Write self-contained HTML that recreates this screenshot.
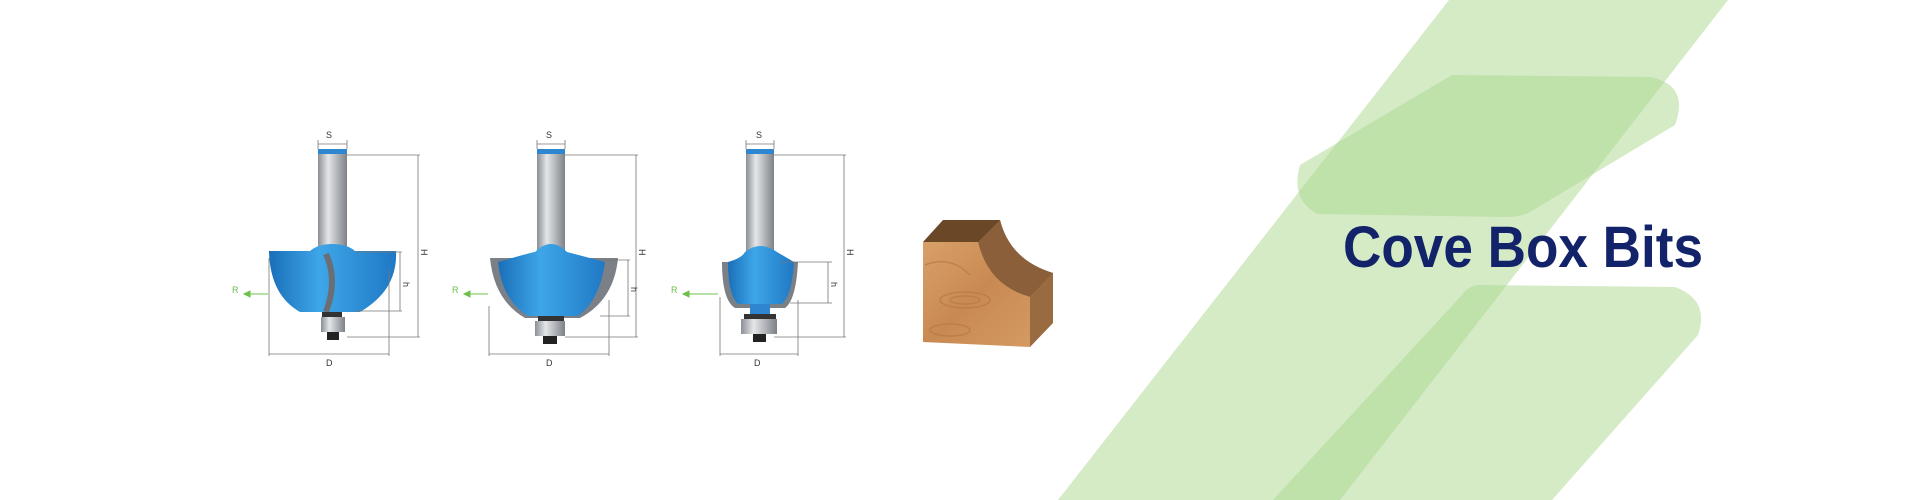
<!DOCTYPE html>
<html><head><meta charset="utf-8"><style>
html,body{margin:0;padding:0;background:#fff;width:1920px;height:500px;overflow:hidden}
svg{display:block}
</style></head><body>
<svg width="1920" height="500" viewBox="0 0 1920 500" xmlns="http://www.w3.org/2000/svg">
<defs>
<linearGradient id="sh" x1="0" x2="1"><stop offset="0" stop-color="#8a8f96"/><stop offset=".35" stop-color="#e4e6e8"/><stop offset="1" stop-color="#7d8288"/></linearGradient>
<linearGradient id="bl" x1="0" x2="1"><stop offset="0" stop-color="#1a6fb8"/><stop offset=".4" stop-color="#3ea6e8"/><stop offset="1" stop-color="#1f78c4"/></linearGradient>
<linearGradient id="wd" x1="0" y1="0" x2="1" y2="1"><stop offset="0" stop-color="#d9a06a"/><stop offset=".5" stop-color="#c98a52"/><stop offset="1" stop-color="#d39a62"/></linearGradient>
</defs>
<g fill="#a9d88e" fill-opacity="0.5">
<path d="M1449 0 L1728 0 L1340 500 L1058 500 Z"/>
<path d="M1452 75 L1650 77 Q1690 85 1675 125 L1530 212 Q1520 217 1505 217 L1318 214 Q1290 200 1300 165 Z"/>
<path d="M1479 285 L1675 287 Q1710 300 1698 335 L1552 500 L1273 500 L1462 295 Q1468 286 1479 285 Z"/>
</g>
<text x="1343" y="267" font-family="Liberation Sans, sans-serif" font-weight="bold" font-size="58" fill="#13236a" textLength="360" lengthAdjust="spacingAndGlyphs">Cove Box Bits</text>

<g font-family="Liberation Sans, sans-serif" font-size="9" fill="#333">
<!-- Bit 1 -->
<g>
<rect x="318" y="149" width="29" height="104" fill="url(#sh)"/>
<rect x="318" y="149" width="29" height="5" fill="#2f86d0"/>
<path d="M310 251 Q318 244 332 244 Q347 244 355 251 L396 251 Q398 290 360 312 L300 312 Q270 295 269 251 Z" fill="url(#bl)"/>
<path d="M326 254 Q338 280 326 312" stroke="#6a6f76" stroke-width="6" fill="none"/>
<rect x="322" y="312" width="20" height="5" fill="#333"/>
<rect x="321" y="317" width="24" height="15" fill="url(#sh)"/>
<rect x="327" y="332" width="12" height="8" fill="#222"/>
</g>
<!-- Bit 2 -->
<g>
<rect x="537" y="149" width="28" height="110" fill="url(#sh)"/>
<rect x="537" y="149" width="28" height="5" fill="#2f86d0"/>
<path d="M490 258 L618 258 Q614 300 580 318 L525 318 Q494 300 490 258 Z" fill="#7b8087"/>
<path d="M498 262 Q540 250 535 252 Q551 236 567 252 L605 262 Q600 300 578 316 L528 316 Q502 300 498 262 Z" fill="url(#bl)"/>
<rect x="538" y="316" width="26" height="5" fill="#333"/>
<rect x="535" y="321" width="30" height="15" fill="url(#sh)"/>
<rect x="543" y="336" width="14" height="8" fill="#222"/>
</g>
<!-- Bit 3 -->
<g>
<rect x="746" y="149" width="28" height="110" fill="url(#sh)"/>
<rect x="746" y="149" width="28" height="5" fill="#2f86d0"/>
<path d="M722 262 L798 262 Q796 300 785 308 L735 308 Q722 300 722 262 Z" fill="#7b8087"/>
<path d="M728 262 Q742 258 745 252 Q760 240 777 252 L794 262 Q792 295 782 304 L738 304 Q728 295 728 262 Z" fill="url(#bl)"/>
<rect x="750" y="304" width="20" height="10" fill="#2f86d0"/>
<rect x="744" y="314" width="32" height="5" fill="#333"/>
<rect x="741" y="319" width="36" height="15" fill="url(#sh)"/>
<rect x="753" y="334" width="13" height="8" fill="#222"/>
</g>
<g stroke="#777" stroke-width="0.8" fill="none">
<path d="M347 155 H420 M347 337 H420 M418 155 V337 M269 258 V356 M389 270 V356 M269 354 H389 M318 144 H347 M318 140 V149 M347 140 V149 M355 252 H402 M355 311 H402 M400 252 V311"/>
<path d="M565 155 H638 M565 337 H638 M636 155 V337 M489 306 V356 M609 300 V356 M489 354 H609 M537 144 H565 M537 140 V149 M565 140 V149 M600 260 H630 M600 316 H630 M628 260 V316"/>
<path d="M774 155 H846 M774 337 H846 M844 155 V337 M720 297 V356 M798 300 V356 M720 354 H798 M746 144 H774 M746 140 V149 M774 140 V149 M780 262 H832 M790 303 H832 M828 262 V303"/>
</g>
<text x="326" y="138">S</text><text x="546" y="138">S</text><text x="756" y="138">S</text>
<text x="326" y="366">D</text><text x="546" y="366">D</text><text x="754" y="366">D</text>
<text x="421" y="249" transform="rotate(90 421 249)">H</text>
<text x="639" y="249" transform="rotate(90 639 249)">H</text>
<text x="847" y="249" transform="rotate(90 847 249)">H</text>
<text x="403" y="282" transform="rotate(90 403 282)">h</text>
<text x="631" y="287" transform="rotate(90 631 287)">h</text>
<text x="831" y="282" transform="rotate(90 831 282)">h</text>
<g fill="#6cc04a"><text x="232" y="293">R</text><text x="452" y="293">R</text><text x="671" y="293">R</text></g>
<g stroke="#6cc04a" stroke-width="1" fill="#6cc04a">
<path d="M246 294 H268"/><path d="M244 294 L250 291 L250 297 Z"/>
<path d="M466 294 H488"/><path d="M464 294 L470 291 L470 297 Z"/>
<path d="M685 294 H718"/><path d="M683 294 L689 291 L689 297 Z"/>
</g>
</g>
<!-- wood block -->
<path d="M943 220 L1000 220 Q1010 260 1053 273 L1030 297 Q988 285 978 242 Z" fill="#6e4a2c"/>
<path d="M923 242 L943 220 L1000 220 L978 242 Z" fill="#6a4727"/>
<path d="M978 242 Q988 285 1030 297 L1053 273 Q1010 260 1000 220 Z" fill="#8a5f3a"/>
<path d="M1030 297 L1053 273 L1053 323 L1030 347 Z" fill="#9a6a40"/>
<path d="M923 242 L978 242 Q988 285 1030 297 L1030 347 L923 342 Z" fill="url(#wd)"/>
<g stroke="#b77a45" stroke-width="1.5" fill="none" opacity=".7">
<ellipse cx="965" cy="300" rx="25" ry="8"/><ellipse cx="965" cy="300" rx="15" ry="4"/>
<ellipse cx="950" cy="330" rx="20" ry="6"/><path d="M925 265 Q950 255 970 275"/>
</g>
</svg>
</body></html>
